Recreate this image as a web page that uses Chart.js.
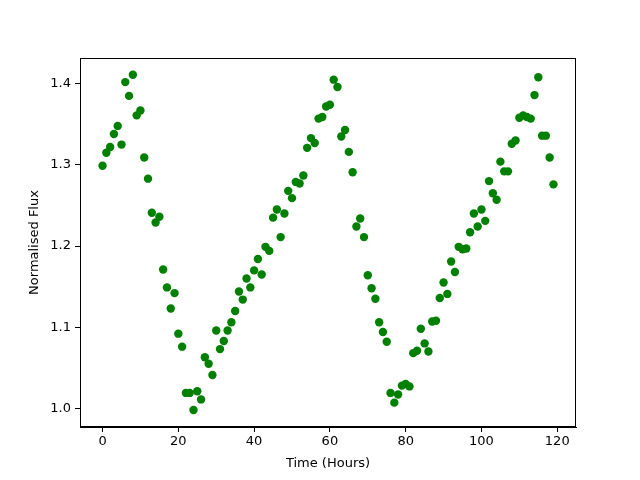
<!DOCTYPE html>
<html>
<head>
<meta charset="utf-8">
<script src="https://cdn.jsdelivr.net/npm/chart.js@4/dist/chart.umd.min.js"></script>
<style>
  body { margin: 0; background: #fff; }
  canvas { display: block; }
</style>
</head>
<body>
<canvas id="myChart" width="640" height="480"></canvas>
<script>
const hours = [
  0, 1, 2, 3, 4, 5, 6, 7, 8, 9,
  10, 11, 12, 13, 14, 15, 16, 17, 18, 19,
  20, 21, 22, 23, 24, 25, 26, 27, 28, 29,
  30, 31, 32, 33, 34, 35, 36, 37, 38, 39,
  40, 41, 42, 43, 44, 45, 46, 47, 48, 49,
  50, 51, 52, 53, 54, 55, 56, 57, 58, 59,
  60, 61, 62, 63, 64, 65, 66, 67, 68, 69,
  70, 71, 72, 73, 74, 75, 76, 77, 78, 79,
  80, 81, 82, 83, 84, 85, 86, 87, 88, 89,
  90, 91, 92, 93, 94, 95, 96, 97, 98, 99,
  100, 101, 102, 103, 104, 105, 106, 107, 108, 109,
  110, 111, 112, 113, 114, 115, 116, 117, 118, 119
];

const flux = [
  1.299, 1.315, 1.322, 1.338, 1.348, 1.325, 1.402, 1.385, 1.411, 1.361,
  1.367, 1.309, 1.283, 1.241, 1.229, 1.236, 1.171, 1.149, 1.123, 1.142,
  1.092, 1.076, 1.019, 1.019, 0.998, 1.021, 1.011, 1.063, 1.055, 1.041,
  1.096, 1.073, 1.083, 1.096, 1.106, 1.120, 1.144, 1.134, 1.160, 1.149,
  1.170, 1.184, 1.165, 1.199, 1.194, 1.235, 1.245, 1.211, 1.240, 1.268,
  1.259, 1.279, 1.277, 1.287, 1.321, 1.333, 1.327, 1.357, 1.359, 1.372,
  1.374, 1.405, 1.396, 1.335, 1.343, 1.316, 1.291, 1.224, 1.234, 1.211,
  1.164, 1.148, 1.135, 1.106, 1.094, 1.082, 1.019, 1.007, 1.017, 1.028,
  1.030, 1.027, 1.068, 1.071, 1.098, 1.080, 1.070, 1.107, 1.108, 1.136,
  1.155, 1.141, 1.181, 1.168, 1.199, 1.196, 1.197, 1.217, 1.240, 1.224,
  1.245, 1.231, 1.280, 1.265, 1.257, 1.304, 1.292, 1.292, 1.326, 1.330,
  1.358, 1.361, 1.359, 1.357, 1.386, 1.408, 1.336, 1.336, 1.309, 1.276
];

const xTicks = [0, 20, 40, 60, 80, 100, 120];
const yTicks = [1.0, 1.1, 1.2, 1.3, 1.4];

Chart.defaults.font.family = "'DejaVu Sans', sans-serif";
Chart.defaults.font.size = 13;
Chart.defaults.color = '#000';

// matplotlib style box around the plot area
const frame = {
  id: 'frame',
  afterDraw(chart) {
    const { ctx, chartArea: a } = chart;
    ctx.save();
    ctx.strokeStyle = '#000';
    ctx.lineWidth = 1;
    ctx.strokeRect(a.left + 0.5, a.top + 0.5, a.right - a.left - 1, a.bottom - a.top - 1);
    ctx.restore();
  }
};

const ctx = document.getElementById('myChart').getContext('2d');

const myChart = new Chart(ctx, {
  type: 'scatter',
  data: {
    datasets: [{
      data: hours.map((h, i) => ({ x: h, y: flux[i] })),
      backgroundColor: '#008000',
      borderWidth: 0,
      pointRadius: 4.2,
      pointHoverRadius: 4.2
    }]
  },
  options: {
    responsive: false,
    animation: false,
    layout: { padding: { left: 0, top: 58, right: 64, bottom: 0 } },
    plugins: { legend: { display: false }, tooltip: { enabled: false } },
    scales: {
      x: {
        min: -5.95,
        max: 124.95,
        afterBuildTicks: (scale) => { scale.ticks = xTicks.map(v => ({ value: v })); },
        afterFit: (scale) => { scale.height = 53; },
        ticks: { maxRotation: 0, padding: 2, callback: (v) => v },
        grid: { drawOnChartArea: false, tickLength: 5, color: '#000' },
        border: { color: '#000' },
        title: { display: true, text: 'Time (Hours)', padding: { top: 0, bottom: 9 } }
      },
      y: {
        min: 0.977,
        max: 1.4317,
        afterBuildTicks: (scale) => { scale.ticks = yTicks.map(v => ({ value: v })); },
        afterFit: (scale) => { scale.width = 80; },
        ticks: { padding: 4, callback: (v) => v.toFixed(1) },
        grid: { drawOnChartArea: false, tickLength: 5, color: '#000' },
        border: { color: '#000' },
        title: { display: true, text: 'Normalised Flux', padding: { top: 27, bottom: 0 } }
      }
    }
  },
  plugins: [frame]
});
</script>
</body>
</html>
